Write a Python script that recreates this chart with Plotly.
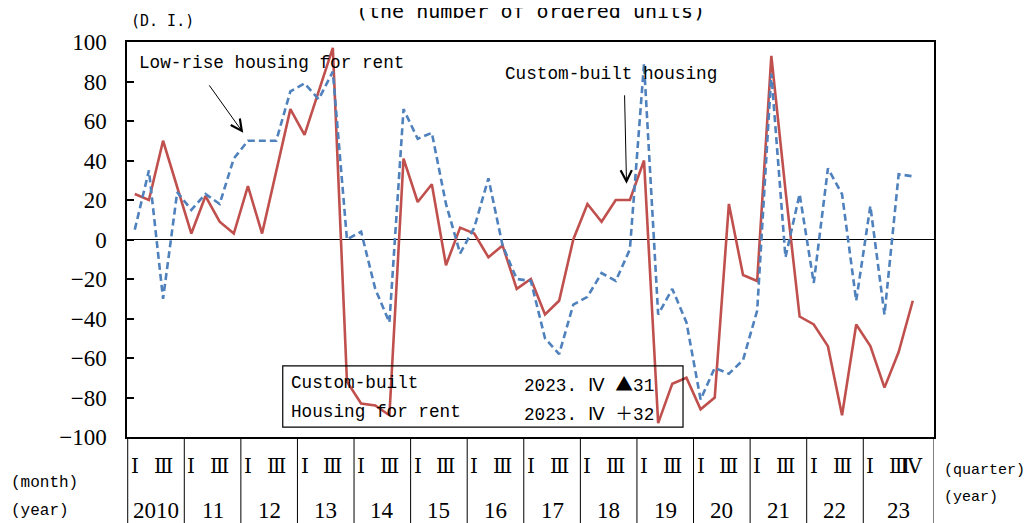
import plotly.graph_objects as go

# ---------------- data ----------------
years = ["2010", "11", "12", "13", "14", "15", "16", "17", "18", "19", "20", "21", "22", "23"]
quarters_per_year = 4
quarter_marks = {0: "Ⅰ", 2: "Ⅲ"}
last_quarter_mark = "Ⅳ"

custom_built = [23, 20, 50, 26, 3, 22, 9, 3, 27, 3, 34, 66, 53, 75, 97, -72,
                -83, -84, -89, 41, 19, 28, -13, 6, 3, -9, -3, -25, -20, -38, -31, 0,
                18, 9, 20, 20, 40, -93, -73, -70, -86, -80, 18, -18, -21, 93, 25, -39,
                -43, -54, -89, -43, -54, -75, -57, -31]
rent_housing = [5, 35, -30, 24, 15, 23, 18, 41, 50, 50, 50, 75, 79, 71, 85, 0,
                4, -25, -42, 66, 51, 54, 18, -7, 6, 31, -3, -20, -21, -50, -58, -33,
                -29, -17, -21, -5, 89, -38, -25, -42, -81, -65, -68, -61, -36, 84, -9, 23,
                -22, 36, 23, -31, 17, -38, 33, 32]

y_ticks = [-100, -80, -60, -40, -20, 0, 20, 40, 60, 80, 100]

n = len(custom_built)
xs = list(range(n))

RED = "#C0504D"
BLUE = "#4F81BD"
MONO = "Liberation Mono"
SERIF = "Liberation Serif"
ROMAN = "DejaVu Serif"
CJK = "Noto Sans CJK JP"

fig = go.Figure()
fig.add_trace(go.Scatter(x=xs, y=custom_built, mode="lines",
                         line=dict(color=RED, width=2.6), name="Custom-built"))
fig.add_trace(go.Scatter(x=xs, y=rent_housing, mode="lines",
                         line=dict(color=BLUE, width=2.6, dash="7px,4px"),
                         name="Housing for rent"))

annotations = []
shapes = []


def note(**kw):
    kw.setdefault("showarrow", False)
    kw.setdefault("yanchor", "middle")
    kw.setdefault("xanchor", "center")
    annotations.append(kw)


# quarter labels and year labels under the plot
for j, yr in enumerate(years):
    start = j * quarters_per_year
    for q, lab in quarter_marks.items():
        note(x=start + q, y=-0.074, xref="x", yref="paper", text=lab,
             font=dict(family=ROMAN, size=20, color="black"))
    last = j == len(years) - 1
    end = start + quarters_per_year - 0.5 + (1 if last else 0)
    center = (start - 0.5 + end) / 2
    note(x=center, y=-0.185, xref="x", yref="paper", text=yr,
         font=dict(family=SERIF, size=23, color="black"))
    shapes.append(dict(type="line", xref="x", yref="paper",
                       x0=start - 0.5, x1=start - 0.5, y0=0, y1=-0.3,
                       line=dict(color="black", width=1)))
    if last:
        note(x=n - 1, y=-0.074, xref="x", yref="paper", text=last_quarter_mark,
             font=dict(family=ROMAN, size=20, color="black"))
        shapes.append(dict(type="line", xref="x", yref="paper",
                           x0=end, x1=end, y0=0, y1=-0.3,
                           line=dict(color="black", width=1)))

# side labels
side_font = dict(family=MONO, size=16, color="black")
note(x=-0.146, y=-0.116, xref="paper", yref="paper", text="(month)",
     xanchor="left", font=side_font)
note(x=-0.146, y=-0.187, xref="paper", yref="paper", text="(year)",
     xanchor="left", font=side_font)
note(x=1.010, y=-0.086, xref="paper", yref="paper", text="(quarter)",
     xanchor="left", font=dict(family=MONO, size=15, color="black"))
note(x=1.010, y=-0.154, xref="paper", yref="paper", text="(year)",
     xanchor="left", font=dict(family=MONO, size=15, color="black"))
note(x=0.003, y=1.053, xref="paper", yref="paper", text="(D. I.)",
     xanchor="left", font=dict(family="DejaVu Sans Mono", size=15, color="black"))
note(x=0.5, y=1.079, xref="paper", yref="paper",
     text="(the number of ordered units)",
     font=dict(family="DejaVu Sans Mono", size=20, color="black"))

# series call-outs with arrows
lab_font = dict(family=MONO, size=17.7, color="black")
note(x=0.013, y=0.948, xref="paper", yref="paper",
     text="Low-rise housing for rent", xanchor="left", font=lab_font)
note(x=0.466, y=0.92, xref="paper", yref="paper",
     text="Custom-built housing", xanchor="left", font=lab_font)
annotations.append(dict(x=0.144, y=0.77, xref="paper", yref="paper", ax=-35, ay=-49,
                        text="", showarrow=True, arrowhead=5, arrowsize=2.2,
                        arrowwidth=1, arrowcolor="black"))
annotations.append(dict(x=0.619, y=0.641, xref="paper", yref="paper", ax=-2, ay=-90,
                        text="", showarrow=True, arrowhead=5, arrowsize=2.2,
                        arrowwidth=1, arrowcolor="black"))

# latest values box
box_font = dict(family=MONO, size=17.7, color="black")
latest_q = "2023. Ⅳ"
cb_last = custom_built[-1]
rh_last = rent_housing[-1]


def fmt(v):
    sym = "▲" if v < 0 else "＋"
    return ('<span style="font-family:%s">%s</span>' % (CJK, sym)) + str(abs(v))


shapes.append(dict(type="rect", xref="paper", yref="paper",
                   x0=0.193, x1=0.689, y0=0.025, y1=0.18,
                   line=dict(color="black", width=1.2)))
note(x=0.201, y=0.137, xref="paper", yref="paper", text="Custom-built",
     xanchor="left", font=box_font)
note(x=0.201, y=0.063, xref="paper", yref="paper", text="Housing for rent",
     xanchor="left", font=box_font)
note(x=0.490, y=0.137, xref="paper", yref="paper",
     text=latest_q + " " + fmt(cb_last), xanchor="left", font=box_font)
note(x=0.490, y=0.063, xref="paper", yref="paper",
     text=latest_q + " " + fmt(rh_last), xanchor="left", font=box_font)

fig.update_layout(
    width=1026, height=515,
    margin=dict(l=119, r=100, t=34, b=86),
    paper_bgcolor="white", plot_bgcolor="white",
    showlegend=False,
    annotations=annotations,
    shapes=shapes,
    xaxis=dict(range=[-0.55, 56.5], showgrid=False, zeroline=False,
               showticklabels=False, ticks="", showline=True, mirror=True,
               linecolor="black", linewidth=1.5),
    yaxis=dict(range=[-100, 100], tickvals=y_ticks, showgrid=False,
               zeroline=True, zerolinecolor="black", zerolinewidth=1,
               ticks="inside", ticklen=7, tickcolor="black", tickwidth=1.5,
               showline=True, mirror=True, linecolor="black", linewidth=1.5,
               ticklabelstandoff=14,
               tickfont=dict(family=SERIF, size=23, color="black")),
)

fig.write_html("out.html")
